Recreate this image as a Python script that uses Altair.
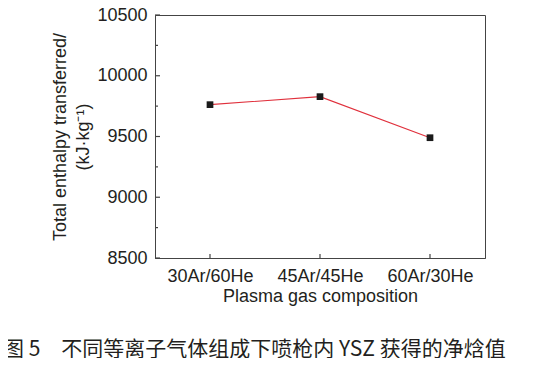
import altair as alt
import pandas as pd

compositions = ["30Ar/60He", "45Ar/45He", "60Ar/30He"]
enthalpy = [9762, 9828, 9490]
major_ticks = [8500, 9000, 9500, 10000, 10500]
minor_ticks = [8750, 9250, 9750, 10250]
caption = "图 5　不同等离子气体组成下喷枪内 YSZ 获得的净焓值"

df = pd.DataFrame({"comp": compositions, "val": enthalpy})
df_major = pd.DataFrame({"v": major_ticks})
df_minor = pd.DataFrame({"v": minor_ticks})

FONT = "Liberation Sans"
TXT = "#231f20"
AX = "#444444"

xscale = alt.Scale(type="point", domain=compositions, padding=0.5)
yscale = alt.Scale(domain=[8500, 10500], nice=False, zero=False)

x_enc = alt.X("comp:N", scale=xscale, sort=compositions,
              axis=alt.Axis(title="Plasma gas composition", labelAngle=0,
                            labelAlign="center", labelBaseline="top",
                            ticks=False, labelPadding=9, titlePadding=2,
                            labelFontSize=18, titleFontSize=18,
                            labelFont=FONT, titleFont=FONT,
                            labelColor=TXT, titleColor=TXT,
                            domainColor=AX, titleFontWeight="normal"))
y_enc = alt.Y("val:Q", scale=yscale,
              axis=alt.Axis(title=["Total enthalpy transferred/", "(kJ·kg⁻¹)"],
                            values=major_ticks, format="d", ticks=False, grid=False,
                            labelPadding=8, titlePadding=4,
                            labelFontSize=18, titleFontSize=18,
                            labelFont=FONT, titleFont=FONT,
                            labelColor=TXT, titleColor=TXT,
                            titleLineHeight=23, domainColor=AX,
                            titleFontWeight="normal"))

line = alt.Chart(df).mark_line(color="#e0303c", strokeWidth=1.1).encode(x=x_enc, y=y_enc)
pts = alt.Chart(df).mark_point(shape="square", filled=True, color="#1a1a1a",
                               size=45, opacity=1).encode(x=x_enc, y=y_enc)

ymaj = alt.Chart(df_major).mark_rule(color=AX, strokeWidth=1.2).encode(
    y=alt.Y("v:Q", scale=yscale), x=alt.value(0), x2=alt.value(5))
ymin = alt.Chart(df_minor).mark_rule(color=AX, strokeWidth=1.2).encode(
    y=alt.Y("v:Q", scale=yscale), x=alt.value(0), x2=alt.value(3))
xt = alt.Chart(df).mark_rule(color=AX, strokeWidth=1.2).encode(
    x=alt.X("comp:N", scale=xscale, sort=compositions), y=alt.value(243), y2=alt.value(239))

cap = alt.Chart(pd.DataFrame({"t": [caption]})).mark_text(
    align="left", baseline="alphabetic", font="Noto Sans CJK SC", fontSize=21,
    color=TXT).encode(text="t:N", x=alt.value(-152), y=alt.value(341))

chart = alt.layer(ymaj, ymin, xt, line, pts, cap).properties(
    width=330, height=243,
    autosize=alt.AutoSizeParams(type="none"),
    padding={"left": 147, "top": 7, "right": 50, "bottom": 100},
).configure_view(stroke=AX, strokeWidth=1).configure_axis(domainWidth=1)

chart.save("out.html", embed_options={"renderer": "svg", "actions": False})
